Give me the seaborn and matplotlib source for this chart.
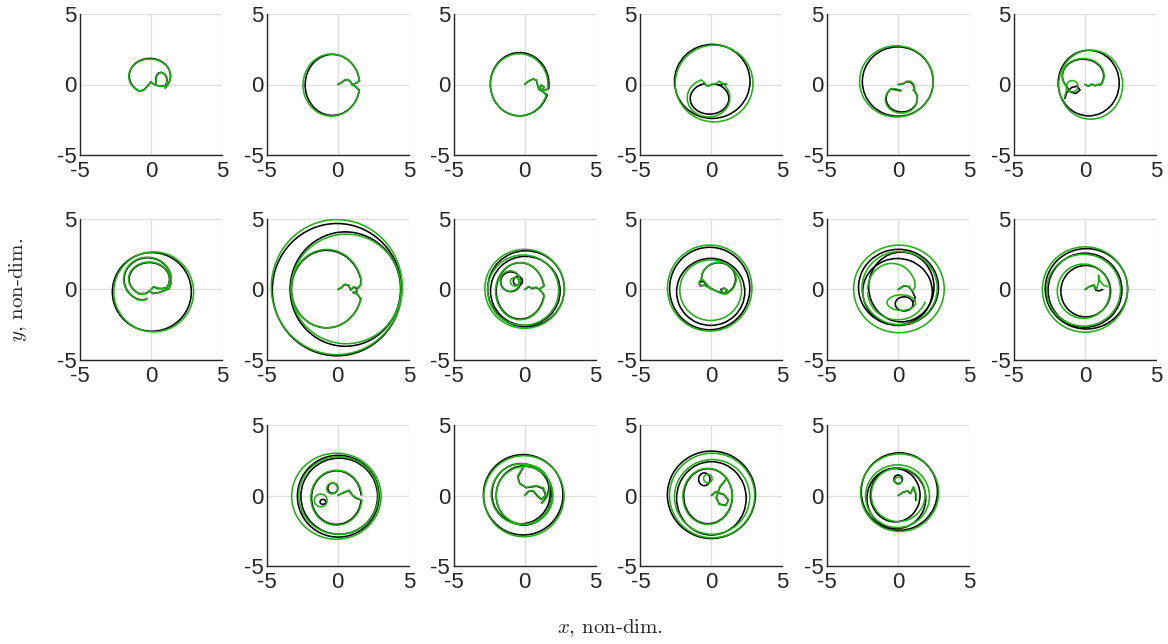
import numpy as np
import pandas as pd
import matplotlib
matplotlib.use("Agg")
import matplotlib.pyplot as plt
from matplotlib.patches import Arc
import seaborn as sns

# ---------------------------------------------------------------------------
# Trajectories in non-dimensional units.
#   *_PATH : (x, y) vertices of the irregular parts; None starts a new piece.
#   *_ARCS : orbit loops as (cx, cy, width, height, theta1, theta2) in degrees.
# K = reference trajectory (black), G = model trajectory (green).
# ---------------------------------------------------------------------------
P01_K_PATH = [(0.35,0.07),(0.33,0.35),(0.38,0.62),(0.55,0.83),(0.75,0.86),(0.95,0.75),(1.1,0.5),(1.12,0.2),(1.04,-0.05),(0.7,-0.12),(0.35,-0.05),(0.12,0.07),(0.0,0.19),(-0.2,-0.05),(-0.47,-0.35),(-0.7,-0.45),(-0.89,-0.44)]
P01_K_ARCS = [(-0.08,0.6,2.9,2.5,-40,236)]
P01_G_PATH = [(0.35,0.07),(0.36,0.35),(0.42,0.62),(0.6,0.83),(0.8,0.84),(1.0,0.72),(1.13,0.48),(1.14,0.18),(1.05,-0.08),(0.7,-0.12),(0.35,-0.05),(0.12,0.07),(0.0,0.19),(-0.2,-0.08),(-0.5,-0.4),(-0.72,-0.47),(-0.91,-0.44)]
P01_G_ARCS = [(-0.09,0.58,2.95,2.45,-40,236)]

P02_K_PATH = [(0,0),(0.24,0.12),(0.47,0.3),(0.7,0.35),(0.9,0.19),(1.0,0.0),(1.3,0.1),(1.52,0.27),None,(1.0,0.0),(1.25,-0.15),(1.51,-0.41)]
P02_K_ARCS = [(-0.38,-0.03,3.84,4.33,8,350)]
P02_G_PATH = [(0,0),(0.24,0.12),(0.47,0.32),(0.7,0.37),(0.9,0.2),(1.0,0.0),(1.3,0.1),(1.53,0.27),None,(1.0,0.0),(1.27,-0.15),(1.52,-0.42)]
P02_G_ARCS = [(-0.45,-0.04,4.0,4.4,8,350)]

P03_K_PATH = [(0,0),(0.28,0.24),(0.59,0.38),(0.83,0.31),(0.92,-0.05),(1.0,-0.35),(1.23,-0.47),(1.37,-0.2),(1.18,-0.05),(1.06,-0.22),(1.3,-0.52),(1.59,-0.75),None,(1.23,-0.47),(1.45,-0.4),(1.7,-0.29)]
P03_K_ARCS = [(-0.35,0.02,4.13,4.49,-8,340)]
P03_G_PATH = [(0,0),(0.28,0.26),(0.59,0.4),(0.83,0.33),(0.92,-0.03),(1.0,-0.33),(1.23,-0.45),(1.37,-0.18),(1.18,-0.03),(1.06,-0.2),(1.3,-0.52),(1.52,-0.77),None,(1.23,-0.45),(1.42,-0.4),(1.63,-0.33)]
P03_G_ARCS = [(-0.38,-0.02,4.05,4.4,-8,340)]

P04_K_PATH = [(-0.8,-0.05),(-0.5,0.07),(-0.24,-0.12),(0,0),(0.3,0.02),(0.55,-0.05),(0.85,0.02),(1.06,0.03)]
P04_K_ARCS = [(0.06,0.22,5.32,5.25,0,360),(-0.13,-1.0,2.72,2.2,120,420)]
P04_G_PATH = [(-0.71,0.32),(-0.5,0.15),(-0.3,-0.12),(0,0),(0.3,0.05),(0.55,0.22),(0.85,0.05),(1.1,0.02)]
P04_G_ARCS = [(0.19,0.07,5.48,5.44,0,360),(-0.2,-0.95,3.0,2.7,110,420)]

P05_K_PATH = [(0,0),(0.28,0.02),(0.59,0.19),(0.83,0.19),(1.05,0.0),(1.15,-0.3),(1.09,-0.39),None,(-0.53,-0.33),(-0.1,-0.38),(0.2,-0.45)]
P05_K_ARCS = [(-0.03,0.21,4.99,4.92,0,360),(0.25,-1.0,2.2,1.9,135,400)]
P05_G_PATH = [(0,0),(0.3,0.05),(0.65,0.25),(0.9,0.22),(1.1,0.0),(1.18,-0.3),(1.09,-0.42),None,(-0.55,-0.3),(-0.2,-0.3),(0.2,-0.4)]
P05_G_ARCS = [(-0.12,0.22,5.2,5.05,0,360),(0.22,-1.05,2.25,1.95,130,400)]

P06_K_PATH = [(0,0),(0.24,-0.12),(0.47,0.02),(0.71,-0.09),(0.95,0.0),(1.12,0.0),None,(-1.33,-0.09),(-1.06,-0.52),(-0.64,-0.64),(-0.35,-0.4),(-0.54,-0.12),(-0.95,-0.21),(-1.3,-0.6),(-1.42,-1.0)]
P06_K_ARCS = [(-0.14,0.6,2.9,2.4,-30,215),(0.26,0.1,4.3,4.65,0,360)]
P06_G_PATH = [(0,0),(0.24,-0.1),(0.47,0.04),(0.71,-0.07),(0.95,0.02),(1.14,0.02),None,(-1.33,-0.08),(-1.3,-0.4),(-1.45,-0.9)]
P06_G_ARCS = [(-0.13,0.62,2.95,2.45,-30,215),(0.4,-0.01,4.5,4.9,0,360),(-0.9,-0.12,0.8,0.8,0,360)]

P07_K_PATH = [(0,0),(0.19,0.19),(0.47,0.07),(0.83,0.07),(1.11,0.14),None,(-0.83,-0.29),(-0.35,-0.28),(-0.12,-0.1),(0.12,-0.28),(0.6,-0.2),(1.0,-0.05),(1.26,0.06),None,(-0.94,-0.69),(-0.5,-0.75),(-0.28,-0.64)]
P07_K_ARCS = [(-0.12,0.73,2.84,2.36,-30,240),(-0.24,0.71,3.31,3.08,-25,245),(0.06,-0.17,5.56,5.58,0,360)]
P07_G_PATH = [(0,0),(0.19,0.22),(0.47,0.1),(0.83,0.05),(1.12,0.15),None,(-0.85,-0.32),(-0.33,-0.3),(-0.1,-0.1),(0.12,-0.3),(0.6,-0.22),(1.0,-0.06),(1.28,0.05),None,(-0.96,-0.72),(-0.5,-0.78),(-0.28,-0.66)]
P07_G_ARCS = [(-0.13,0.75,2.9,2.4,-30,240),(-0.25,0.72,3.36,3.14,-25,245),(0.19,-0.17,5.62,5.67,0,360)]

P08_K_PATH = [(0,0),(0.24,0.12),(0.47,0.35),(0.76,0.31),(0.9,-0.05),(1.1,0.15),(1.35,0.1),(1.3,-0.2),(1.06,-0.21),(1.35,-0.3),(1.62,-0.68),None,(1.62,0.74),(1.6,0.31),(1.37,0.07)]
P08_K_ARCS = [(-0.78,0.03,4.96,5.5,15,345),(-0.06,-0.01,9.1,9.38,0,360),(0.53,0.03,7.78,8.11,0,360)]
P08_G_PATH = [(0,0),(0.24,0.14),(0.47,0.38),(0.76,0.33),(0.9,-0.03),(1.12,0.2),(1.4,0.12),(1.33,-0.25),(1.08,-0.2),(1.38,-0.35),(1.64,-0.68),None,(1.64,0.78),(1.62,0.31),(1.4,0.07)]
P08_G_ARCS = [(-0.78,0.06,5.0,5.56,15,345),(-0.07,0.17,9.22,9.58,0,360),(0.58,0.04,7.75,7.77,0,360)]

P09_K_PATH = [(0,0),(0.3,0.2),(0.55,0.05),(0.8,0.15),(1.05,0.0),(1.3,-0.3),(1.35,-0.45),None,(1.35,0.25),(1.15,0.1),(1.05,0.0)]
P09_K_ARCS = [(-0.31,-0.1,3.38,4.0,10,350),(-0.98,0.55,1.4,1.4,0,360),(-0.47,0.6,0.64,0.64,0,360),(0.1,0.05,5.4,5.4,0,360),(0.05,-0.1,4.9,4.9,0,360)]
P09_G_PATH = [(0,0),(0.3,0.22),(0.55,0.08),(0.8,0.18),(1.05,0.02),(1.32,-0.3),(1.38,-0.47),None,(1.38,0.24),(1.18,0.1),(1.05,0.02)]
P09_G_ARCS = [(-0.32,-0.12,3.45,4.05,10,350),(-1.02,0.6,1.4,1.45,0,360),(-0.7,0.55,0.6,0.6,0,360),(0.0,0.05,5.6,5.6,0,360),(-0.1,-0.05,5.0,5.0,0,360)]

P10_K_PATH = [(0,0),(-0.3,0.3),(-0.6,0.6),(-0.85,0.5),(-0.8,0.25),(-0.45,0.3),(-0.15,0.15),(0.3,-0.1),(0.6,-0.2),(0.95,-0.3),(1.1,-0.05),(0.9,0.1),(0.65,0.0),(0.85,-0.3),(1.01,-0.29)]
P10_K_ARCS = [(0.5,0.75,2.4,2.3,-65,187),(-0.05,-0.17,4.8,4.75,0,360),(-0.12,0.07,5.65,5.85,0,360)]
P10_G_PATH = [(0,0),(-0.3,0.35),(-0.6,0.7),(-0.85,0.6),(-0.85,0.3),(-0.5,0.3),(-0.15,0.1),(0.3,-0.1),(0.6,-0.25),(0.95,-0.35),(1.15,-0.1),(0.95,0.1),(0.7,0.0),(0.85,-0.3),(1.04,-0.31)]
P10_G_ARCS = [(0.52,0.75,2.45,2.35,-65,187),(-0.05,-0.05,4.35,4.3,0,360),(-0.12,0.1,5.95,6.1,0,360)]

P11_K_PATH = [(0,0),(0.4,0.25),(0.75,0.2),(1.0,-0.15),(1.2,-0.55),(1.1,-0.85)]
P11_K_ARCS = [(0.42,-1.02,1.25,1.0,0,360),(0.02,0.15,5.63,5.4,0,360),(0.22,0.18,4.6,4.95,0,360),(-0.05,-0.15,4.9,4.7,0,360)]
P11_G_PATH = [(0,0),(0.4,0.28),(0.75,0.22),(1.0,-0.12),(1.2,0.2),(1.15,0.63)]
P11_G_ARCS = [(-0.45,0.0,3.4,3.7,20,180),(-0.05,-0.15,4.2,4.0,180,340),(0.22,-0.93,2.0,1.1,0,360),(0.05,0.04,6.38,6.21,0,360),(0.1,0.1,5.3,5.2,0,360)]

P12_K_PATH = [(0,0),(0.28,0.19),(0.64,0.31),(0.76,-0.05),(1.0,-0.1),(1.25,0.0)]
P12_K_ARCS = [(0.1,0.05,5.8,5.7,0,360),(0.0,-0.05,5.2,5.25,0,360),(0.05,-0.12,3.5,3.65,0,360)]
P12_G_PATH = [(0,0),(0.3,0.22),(0.64,0.33),(0.8,0.0),(0.95,0.5),(0.95,1.02),(1.05,0.6),(1.3,0.3),(1.6,0.2)]
P12_G_ARCS = [(-0.1,-0.12,3.7,3.85,10,370),(0.0,0.0,6.0,6.05,0,360),(-0.1,-0.05,5.2,5.1,0,360)]

P13_K_PATH = [(0,0),(0.4,0.2),(0.8,0.35),(1.05,0.0),(1.3,-0.2),(1.64,-0.32)]
P13_K_ARCS = [(-0.1,-0.15,3.5,3.8,5,355),(-0.35,0.52,0.7,0.72,0,360),(-1.05,-0.45,0.4,0.35,0,360),(0.03,-0.05,5.75,5.8,0,360),(0.1,-0.05,5.4,5.4,0,360)]
P13_G_PATH = [(0,0),(0.4,0.22),(0.8,0.38),(1.05,0.02),(1.32,-0.18),(1.69,-0.33)]
P13_G_ARCS = [(-0.1,-0.16,3.6,3.9,5,355),(-0.4,0.5,0.76,0.76,0,360),(-1.2,-0.35,0.9,0.9,0,360),(-0.1,-0.05,6.3,6.1,0,360),(0.05,0.0,5.6,5.5,0,360)]

P14_K_PATH = [(0,0),(0.3,0.3),(0.59,0.33),(0.95,-0.09),(1.18,-0.28),(1.49,0.02),(1.3,0.5),(0.83,0.66),(0.12,0.55),(-0.35,0.85),(-0.47,1.32),(-0.3,1.62),(-0.15,1.9),(-0.06,2.08)]
P14_K_ARCS = [(0.2,0.6,3.0,3.0,-50,100),(-0.1,0.05,5.6,5.7,0,360),(-0.25,0.13,4.1,4.27,0,360),(-0.05,0.0,3.9,4.2,0,360)]
P14_G_PATH = [(0,0),(0.3,0.33),(0.6,0.36),(0.97,-0.06),(1.2,-0.25),(1.52,0.05),(1.33,0.53),(0.85,0.7),(0.1,0.58),(-0.38,0.9),(-0.5,1.35),(-0.32,1.66),(-0.15,1.95),(-0.05,2.12)]
P14_G_ARCS = [(0.23,0.62,3.05,3.05,-50,100),(-0.05,-0.05,5.65,5.75,0,360),(-0.2,0.1,4.3,4.3,0,360),(0.0,0.0,4.0,4.1,0,360)]

P15_K_PATH = [(0,0),(0.3,0.25),(0.6,0.15),(0.9,0.05),(1.2,-0.35),(1.0,-0.7),(0.55,-0.6),(0.35,-0.15),(0.6,0.6),(1.07,1.2)]
P15_K_ARCS = [(-0.24,-0.05,3.42,3.9,40,400),(-0.5,1.15,0.8,0.9,0,360),(0.0,0.05,6.2,6.2,0,360),(0.0,-0.2,4.9,5.2,0,360)]
P15_G_PATH = [(0,0),(0.3,0.28),(0.6,0.18),(0.9,0.08),(1.22,-0.32),(1.02,-0.72),(0.55,-0.64),(0.33,-0.18),(0.58,0.62),(1.1,1.24)]
P15_G_ARCS = [(-0.26,-0.06,3.5,3.98,40,400),(-0.25,1.2,0.6,0.6,0,360),(0.05,0.0,6.0,6.0,0,360),(0.05,-0.1,5.3,5.3,0,360)]

P16_K_PATH = [(0,0),(0.28,0.19),(0.64,0.33),(0.87,0.14),(1.06,0.57),(1.23,0.14),(1.23,-0.33)]
P16_K_ARCS = [(0.0,1.15,0.6,0.6,0,360),(0.08,0.28,5.37,5.49,0,360),(-0.13,-0.2,4.14,4.3,0,360),(-0.21,0.02,3.5,3.78,0,360)]
P16_G_PATH = [(0,0),(0.3,0.22),(0.66,0.35),(0.9,0.16),(1.08,0.62),(1.26,0.14),(1.28,-0.35)]
P16_G_ARCS = [(0.0,1.05,0.5,0.5,0,360),(0.1,0.2,5.5,5.5,0,360),(-0.05,-0.05,4.5,4.45,0,360),(0.0,0.05,3.8,3.8,0,360)]

TICKS = [-5, 0, 5]
TICK_LABELS = ["-5", "0", "5"]
XLABEL = r"$x$, non-dim."
YLABEL = r"$y$, non-dim."

PANELS = [
    (P01_K_PATH, P01_K_ARCS, P01_G_PATH, P01_G_ARCS), (P02_K_PATH, P02_K_ARCS, P02_G_PATH, P02_G_ARCS),
    (P03_K_PATH, P03_K_ARCS, P03_G_PATH, P03_G_ARCS), (P04_K_PATH, P04_K_ARCS, P04_G_PATH, P04_G_ARCS),
    (P05_K_PATH, P05_K_ARCS, P05_G_PATH, P05_G_ARCS), (P06_K_PATH, P06_K_ARCS, P06_G_PATH, P06_G_ARCS),
    (P07_K_PATH, P07_K_ARCS, P07_G_PATH, P07_G_ARCS), (P08_K_PATH, P08_K_ARCS, P08_G_PATH, P08_G_ARCS),
    (P09_K_PATH, P09_K_ARCS, P09_G_PATH, P09_G_ARCS), (P10_K_PATH, P10_K_ARCS, P10_G_PATH, P10_G_ARCS),
    (P11_K_PATH, P11_K_ARCS, P11_G_PATH, P11_G_ARCS), (P12_K_PATH, P12_K_ARCS, P12_G_PATH, P12_G_ARCS),
    (P13_K_PATH, P13_K_ARCS, P13_G_PATH, P13_G_ARCS), (P14_K_PATH, P14_K_ARCS, P14_G_PATH, P14_G_ARCS),
    (P15_K_PATH, P15_K_ARCS, P15_G_PATH, P15_G_ARCS), (P16_K_PATH, P16_K_ARCS, P16_G_PATH, P16_G_ARCS),
]
# grid slots (row, column) of the 16 panels
SLOTS = [(0, c) for c in range(6)] + [(1, c) for c in range(6)] + [(2, c) for c in range(1, 5)]

BLACK = "#000000"
GREEN = "#1fb014"
LW = 1.15

sns.set_theme(style="white")
plt.rcParams["font.family"] = ["Liberation Sans", "DejaVu Sans"]
plt.rcParams["axes.unicode_minus"] = False
plt.rcParams["mathtext.fontset"] = "cm"

W, H = 1168, 644
fig = plt.figure(figsize=(W / 100, H / 100), dpi=100)
col_left = [80, 266.8, 453.6, 640.4, 827.2, 1014]
row_top = [14, 219, 425]
AW, AH = 142, 141


def to_frame(path):
    rows, seg = [], 0
    for p in path:
        if p is None:
            seg += 1
            continue
        rows.append((p[0], p[1], seg))
    return pd.DataFrame(rows, columns=["x", "y", "seg"])


def draw(ax, path, arcs, color, z):
    if path:
        sns.lineplot(data=to_frame(path), x="x", y="y", units="seg", estimator=None,
                     sort=False, color=color, lw=LW, ax=ax, zorder=z, legend=False,
                     solid_joinstyle="round", solid_capstyle="round")
    for cx, cy, w, h, t1, t2 in arcs:
        ax.add_patch(Arc((cx, cy), w, h, theta1=t1, theta2=t2,
                         edgecolor=color, lw=LW, zorder=z))


for (kp, ka, gp, ga), (r, c) in zip(PANELS, SLOTS):
    left = col_left[c] / W
    bottom = 1 - (row_top[r] + AH) / H
    ax = fig.add_axes([left, bottom, AW / W, AH / H])
    draw(ax, kp, ka, BLACK, 3)
    draw(ax, gp, ga, GREEN, 4)
    ax.set_xlim(-5, 5)
    ax.set_ylim(-5, 5)
    ax.set_xticks(TICKS)
    ax.set_yticks(TICKS)
    ax.set_xticklabels(TICK_LABELS)
    ax.set_yticklabels(TICK_LABELS)
    ax.set_xlabel("")
    ax.set_ylabel("")
    ax.grid(True, color="#dedede", lw=0.9, zorder=0)
    ax.set_axisbelow(True)
    for s in ["top", "right"]:
        ax.spines[s].set_visible(False)
    for s in ["left", "bottom"]:
        ax.spines[s].set_color("#262626")
        ax.spines[s].set_linewidth(1.0)
    ax.tick_params(direction="in", length=2.5, width=0.8, labelsize=16,
                   colors="#262626", labelcolor="#262626")
    ax.tick_params(axis="x", pad=4.5)
    ax.tick_params(axis="y", pad=2.5)
    ax.set_facecolor("white")

fig.text(610 / W, 1 - 628 / H, XLABEL, ha="center", va="center",
         fontsize=15, family="cmr10")
fig.text(18 / W, 1 - 290 / H, YLABEL, ha="center", va="center",
         rotation=90, fontsize=15, family="cmr10")

fig.savefig("out.png", dpi=100, facecolor="white")
